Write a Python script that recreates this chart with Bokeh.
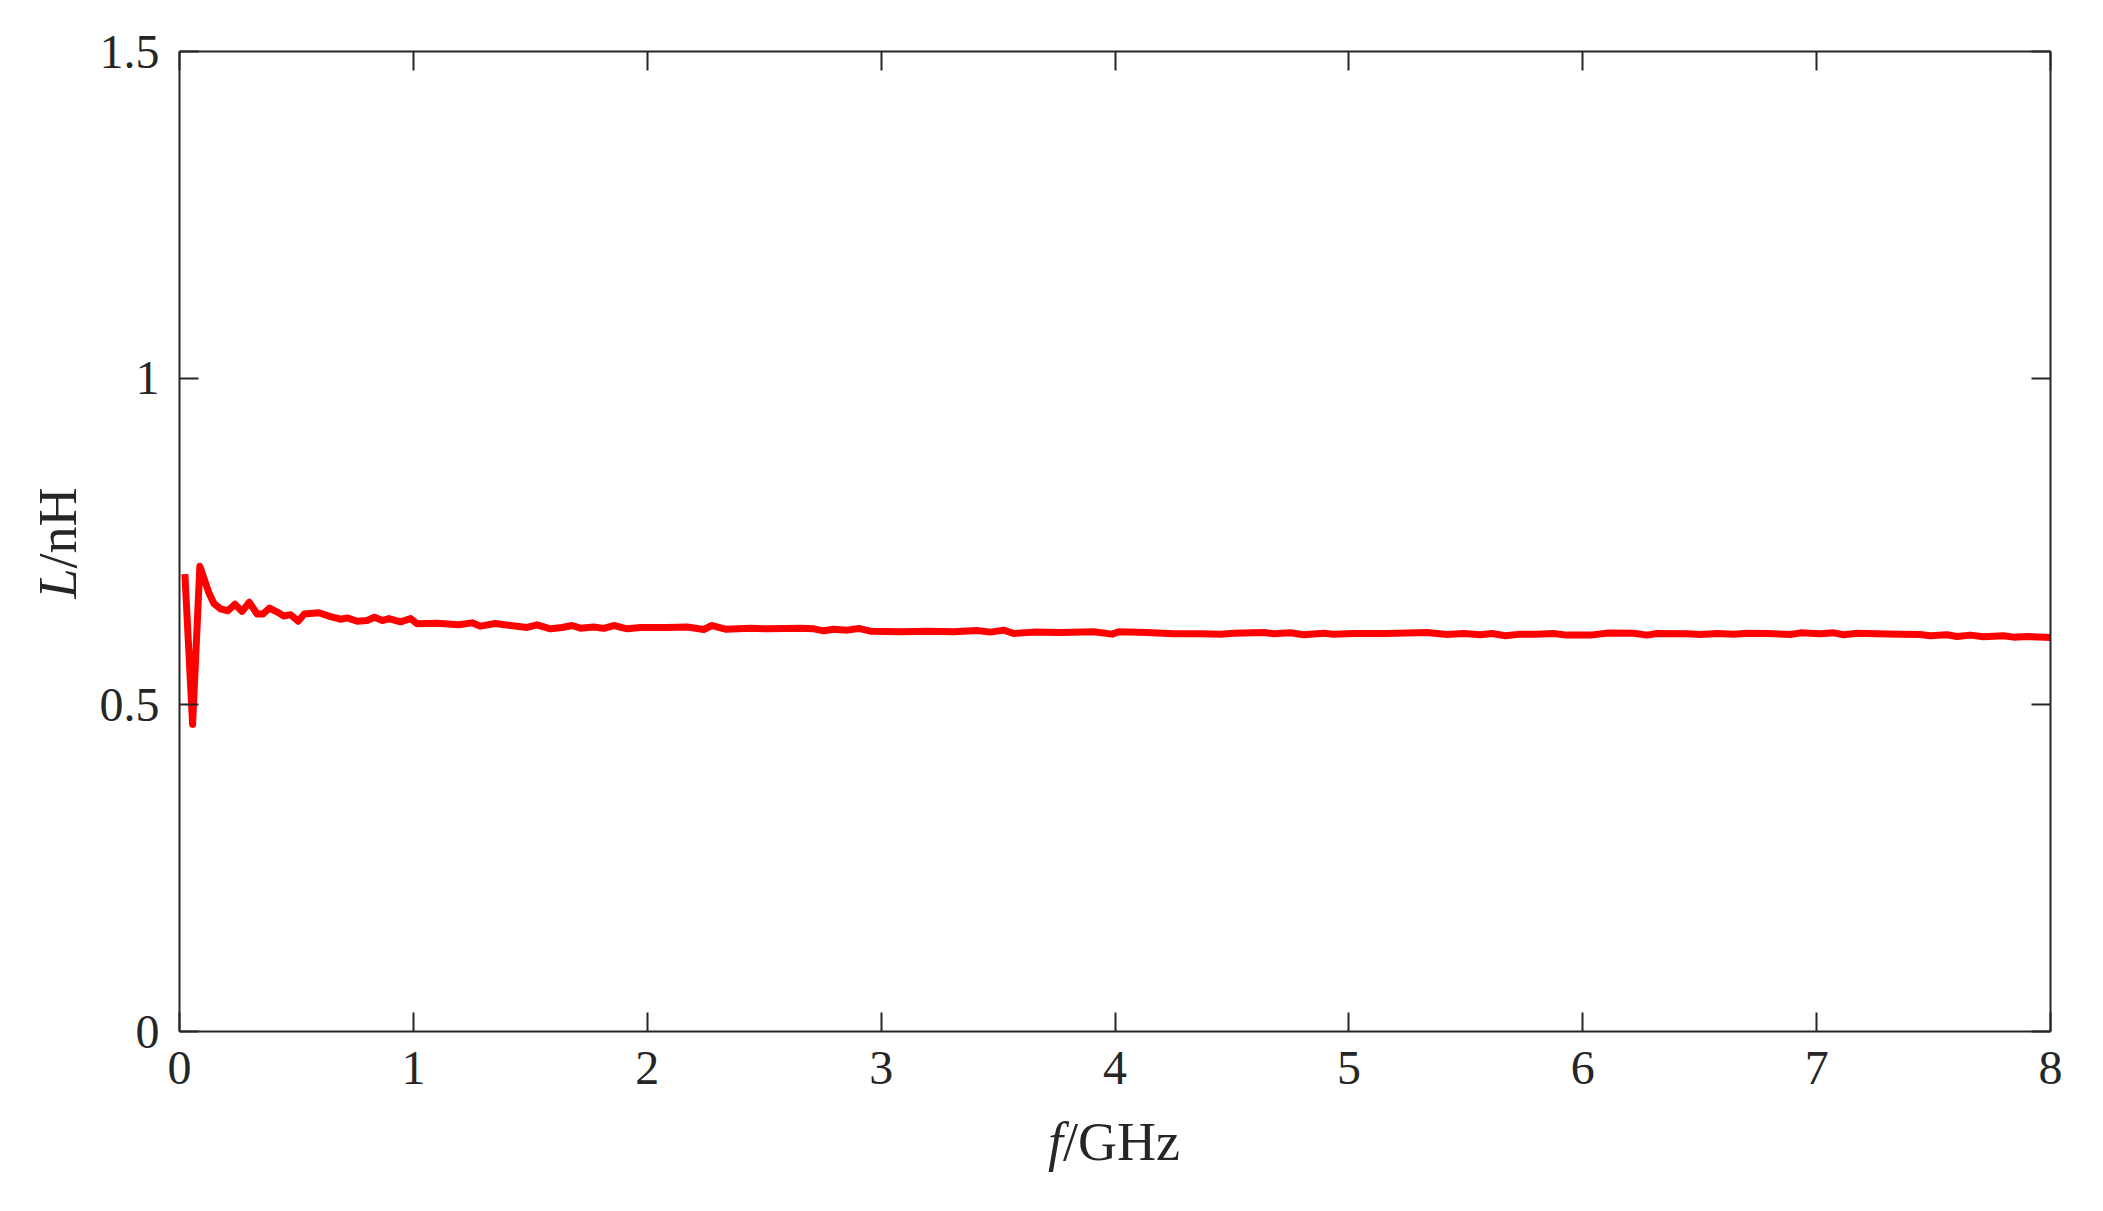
import math
from bokeh.plotting import figure
from bokeh.models import (Range1d, LinearAxis, FixedTicker, CustomJSTickFormatter,
                          CustomLabelingPolicy)
from bokeh.core.properties import value
from bokeh.layouts import row, column
from bokeh.embed import file_html
from bokeh.resources import INLINE

freq_ghz = [0.023, 0.056, 0.087, 0.125, 0.147, 0.175, 0.207, 0.237, 0.268, 0.298,
            0.332, 0.356, 0.385, 0.418, 0.446, 0.475, 0.507, 0.534, 0.596, 0.646,
            0.691, 0.717, 0.760, 0.802, 0.834, 0.867, 0.895, 0.945, 0.988, 1.016,
            1.100, 1.194, 1.251, 1.287, 1.351, 1.415, 1.486, 1.529, 1.586, 1.636,
            1.679, 1.714, 1.771, 1.814, 1.857, 1.914, 1.971, 2.085, 2.171, 2.242,
            2.277, 2.334, 2.441, 2.513, 2.584, 2.655, 2.712, 2.755, 2.797, 2.855,
            2.904, 2.954, 3.083, 3.197, 3.310, 3.410, 3.467, 3.524, 3.567, 3.652,
            3.766, 3.909, 3.988, 4.016, 4.137, 4.251, 4.365, 4.451, 4.508, 4.636,
            4.679, 4.750, 4.807, 4.893, 4.935, 5.021, 5.163, 5.334, 5.420, 5.491,
            5.562, 5.612, 5.669, 5.733, 5.804, 5.875, 5.932, 6.032, 6.110, 6.218,
            6.275, 6.318, 6.446, 6.503, 6.575, 6.646, 6.703, 6.789, 6.888, 6.931,
            7.017, 7.073, 7.116, 7.173, 7.258, 7.358, 7.443, 7.486, 7.557, 7.600,
            7.657, 7.714, 7.799, 7.842, 7.899, 8.000]
inductance_nh = [0.700, 0.470, 0.712, 0.672, 0.655, 0.647, 0.644, 0.654, 0.643, 0.657,
                 0.639, 0.639, 0.648, 0.642, 0.636, 0.638, 0.628, 0.639, 0.641, 0.635,
                 0.631, 0.633, 0.628, 0.629, 0.634, 0.629, 0.632, 0.627, 0.632, 0.624,
                 0.625, 0.6225, 0.6255, 0.6204, 0.6245, 0.6214, 0.6184, 0.6225, 0.6163, 0.6184,
                 0.6214, 0.6173, 0.619, 0.617, 0.6214, 0.6163, 0.6184, 0.6184, 0.619, 0.6153,
                 0.6214, 0.6158, 0.6173, 0.6163, 0.617, 0.6173, 0.6163, 0.6133, 0.6158, 0.6143,
                 0.6169, 0.6128, 0.6118, 0.6128, 0.6118, 0.6138, 0.6113, 0.6143, 0.6092, 0.6113,
                 0.6107, 0.6118, 0.6082, 0.6118, 0.6107, 0.6087, 0.6087, 0.6082, 0.6097, 0.6107,
                 0.6087, 0.6102, 0.6072, 0.6097, 0.6082, 0.6092, 0.6092, 0.6107, 0.6077, 0.6092,
                 0.6072, 0.6092, 0.6057, 0.6082, 0.6082, 0.6092, 0.6067, 0.6067, 0.6100, 0.6097,
                 0.6067, 0.6092, 0.6087, 0.6077, 0.6092, 0.6082, 0.6097, 0.6092, 0.6077, 0.6102,
                 0.6087, 0.6102, 0.6072, 0.6097, 0.6087, 0.6082, 0.6077, 0.6057, 0.6072, 0.6046,
                 0.6067, 0.6041, 0.6057, 0.6036, 0.6046, 0.6031]

x_ticks = [0, 1, 2, 3, 4, 5, 6, 7, 8]
y_ticks = [0, 0.5, 1, 1.5]
x_label_italic, x_label_rest = "f", "/GHz"
y_label_italic, y_label_rest = "L", "/nH"

FONT = "Liberation Serif"
TXT = "#262626"
AX = "#262626"

YLAB_W = 90          # width of the strip holding the y-axis title
LEFT_B = 179 - YLAB_W
MAIN_W = LEFT_B + 1871 + 37
MAIN_H = 1107
XLAB_H = 88
TOTAL_H = MAIN_H + XLAB_H

p = figure(width=MAIN_W, height=MAIN_H, frame_width=1871, frame_height=980,
           output_backend="svg", toolbar_location=None,
           x_range=Range1d(0, 8), y_range=Range1d(0, 1.5),
           x_axis_location=None, y_axis_location=None)
p.min_border_left = LEFT_B
p.min_border_right = 37
p.min_border_top = 51
p.min_border_bottom = MAIN_H - 51 - 980
p.outline_line_color = None
p.xgrid.visible = False
p.ygrid.visible = False

fmt = CustomJSTickFormatter(code="return String(tick);")
no_labels = CustomLabelingPolicy(code="if (false) { yield 0; }")

def style(ax, ticks, show_labels):
    ax.ticker = FixedTicker(ticks=ticks)
    ax.formatter = fmt
    ax.axis_line_color = AX
    ax.axis_line_width = 2
    ax.major_tick_line_color = AX
    ax.major_tick_line_width = 2
    ax.major_tick_in = 19
    ax.major_tick_out = 0
    ax.minor_tick_line_color = None
    ax.major_label_text_font = FONT
    ax.major_label_text_color = TXT
    if show_labels:
        ax.major_label_text_font_size = "48px"
        ax.major_label_standoff = 20
    else:
        ax.major_label_text_font_size = "1px"
        ax.major_label_policy = no_labels
        ax.major_label_standoff = 0
    return ax

p.add_layout(style(LinearAxis(), x_ticks, True), "below")
p.add_layout(style(LinearAxis(), y_ticks, True), "left")
p.add_layout(style(LinearAxis(), x_ticks, False), "above")
p.add_layout(style(LinearAxis(), y_ticks, False), "right")

p.line(freq_ghz, inductance_nh, line_color="#FF0000", line_width=7, line_join="round")


def blank(w, h):
    f = figure(width=w, height=h, output_backend="svg", toolbar_location=None,
               x_range=Range1d(0, w), y_range=Range1d(0, h),
               x_axis_location=None, y_axis_location=None, min_border=0)
    f.xgrid.visible = False
    f.ygrid.visible = False
    f.outline_line_color = None
    return f

# x-axis title strip (below the main plot)
px = blank(MAIN_W, XLAB_H)
jx, jy = 1033 - YLAB_W, 54
px.text(x=[jx], y=[jy], text=[x_label_italic], text_font=value(FONT),
        text_font_style="italic", text_font_size="54px", text_color=TXT,
        text_align="right", text_baseline="alphabetic")
px.text(x=[jx], y=[jy], text=[x_label_rest], text_font=value(FONT),
        text_font_size="54px", text_color=TXT,
        text_align="left", text_baseline="alphabetic")

# y-axis title strip (left of everything)
py = blank(YLAB_W, TOTAL_H)
ky, kx = TOTAL_H - 568, 57
py.text(x=[kx], y=[ky], text=[y_label_italic], angle=math.pi / 2, text_font=value(FONT),
        text_font_style="italic", text_font_size="54px", text_color=TXT,
        text_align="right", text_baseline="alphabetic")
py.text(x=[kx], y=[ky], text=[y_label_rest], angle=math.pi / 2, text_font=value(FONT),
        text_font_size="54px", text_color=TXT,
        text_align="left", text_baseline="alphabetic")

layout = row(py, column(p, px, spacing=0), spacing=0)
open("out.html", "w").write(file_html(layout, INLINE))
